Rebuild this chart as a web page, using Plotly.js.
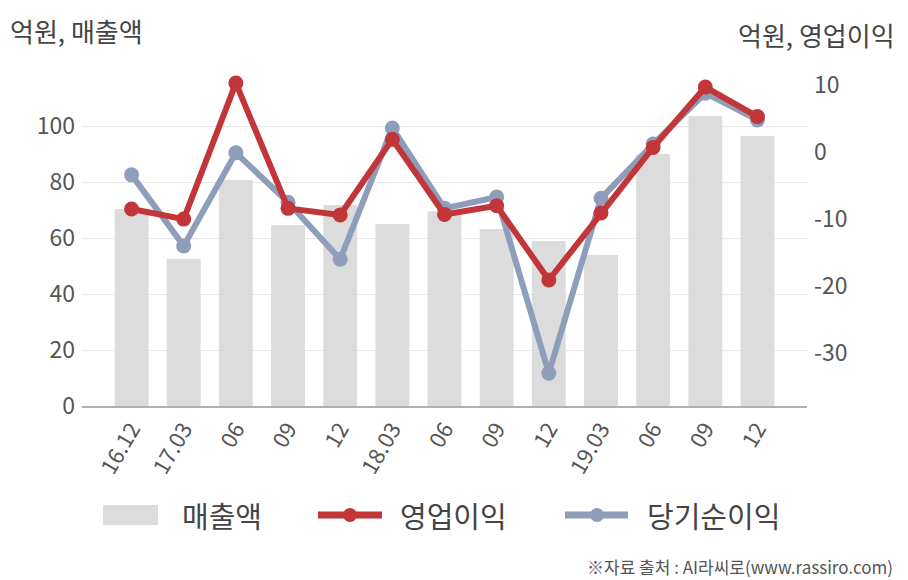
<!DOCTYPE html>
<html>
<head>
<meta charset="utf-8">
<script src="https://cdn.plot.ly/plotly-3.0.1.min.js"></script>
<style>
html,body{margin:0;padding:0;background:#fff;}
#chart{width:908px;height:580px;}
</style>
</head>
<body>
<div id="chart"></div>
<script>
var categories = ["16.12","17.03","06 ","09 ","12 ","18.03","06  ","09  ","12  ","19.03","06","09","12"];
var sales = [70.4, 52.5, 80.7, 64.6, 71.8, 65.0, 69.6, 63.2, 58.9, 53.9, 90.0, 103.6, 96.4];
var operatingProfit = [-8.5, -10.0, 10.3, -8.4, -9.4, 1.9, -9.3, -8.0, -19.1, -9.1, 0.7, 9.7, 5.3];
var netIncome = [-3.4, -14.0, -0.1, -7.5, -16.0, 3.6, -8.4, -6.7, -33.0, -6.9, 1.2, 8.8, 4.8];
var tickLabels = ["16.12","17.03","06","09","12","18.03","06","09","12","19.03","06","09","12"];
var leftTicks = [0, 20, 40, 60, 80, 100];
var rightTicks = [-30, -20, -10, 0, 10];
var rightTickText = ["-30", "-20", "-10", "0", "10"];
var seriesNames = ["매출액", "영업이익", "당기순이익"];

var FONT = '"Noto Sans CJK KR", "Noto Sans", sans-serif';
var RED = '#c23539';
var BLUE = '#8e9dba';
var GREY = '#dcdcdc';

var traces = [
  {type:'bar', x:categories, y:sales, name:seriesNames[0], marker:{color:GREY}, width:0.65, yaxis:'y'},
  {type:'scatter', mode:'lines+markers', x:categories, y:netIncome, name:seriesNames[2], yaxis:'y2',
   line:{color:BLUE, width:6}, marker:{color:BLUE, size:15}},
  {type:'scatter', mode:'lines+markers', x:categories, y:operatingProfit, name:seriesNames[1], yaxis:'y2',
   line:{color:RED, width:6}, marker:{color:RED, size:15}}
];

// paper-coordinate helpers for legend decorations
function px(x){ return (x-82)/725; }
function py(y){ return (406-y)/341; }

var shapes = [
  {type:'rect', xref:'paper', yref:'paper', x0:px(103), x1:px(158), y0:py(505), y1:py(525), fillcolor:GREY, line:{width:0}},
  {type:'line', xref:'paper', yref:'paper', x0:px(318), x1:px(382), y0:py(515), y1:py(515), line:{color:RED, width:7}},
  {type:'circle', xref:'paper', yref:'paper', x0:px(343), x1:px(357), y0:py(508), y1:py(522), fillcolor:RED, line:{width:0}},
  {type:'line', xref:'paper', yref:'paper', x0:px(565), x1:px(628), y0:py(515), y1:py(515), line:{color:BLUE, width:7}},
  {type:'circle', xref:'paper', yref:'paper', x0:px(590), x1:px(604), y0:py(508), y1:py(522), fillcolor:BLUE, line:{width:0}}
];

var annotations = [
  {xref:'paper', yref:'paper', x:px(8), y:py(30), xanchor:'left', yanchor:'middle', text:'억원, 매출액', showarrow:false, font:{family:FONT, size:26, color:'#444'}},
  {xref:'paper', yref:'paper', x:px(897), y:py(34), xanchor:'right', yanchor:'middle', text:'억원, 영업이익', showarrow:false, font:{family:FONT, size:26, color:'#444'}},
  {xref:'paper', yref:'paper', x:px(180), y:py(515), xanchor:'left', yanchor:'middle', text:seriesNames[0], showarrow:false, font:{family:FONT, size:29, color:'#444'}},
  {xref:'paper', yref:'paper', x:px(398), y:py(515), xanchor:'left', yanchor:'middle', text:seriesNames[1], showarrow:false, font:{family:FONT, size:29, color:'#444'}},
  {xref:'paper', yref:'paper', x:px(645), y:py(515), xanchor:'left', yanchor:'middle', text:seriesNames[2], showarrow:false, font:{family:FONT, size:29, color:'#444'}},
  {xref:'paper', yref:'paper', x:px(895), y:py(566), xanchor:'right', yanchor:'middle', text:'※자료 출처 : AI라씨로(www.rassiro.com)', showarrow:false, font:{family:FONT, size:17, color:'#555'}}
];

var layout = {
  width:908, height:580,
  margin:{l:82, r:101, t:65, b:174, pad:0},
  paper_bgcolor:'#fff', plot_bgcolor:'#fff',
  showlegend:false,
  font:{family:FONT, color:'#555'},
  xaxis:{
    type:'category', range:[-0.95, 12.95],
    tickvals:categories, ticktext:tickLabels, tickangle:-60,
    tickfont:{family:FONT, size:22, color:'#555'},
    showgrid:false, showline:true, linecolor:'#b0b0b0', linewidth:1.5,
    ticks:'', fixedrange:true
  },
  yaxis:{
    range:[0, 121.8], tickvals:leftTicks,
    tickfont:{family:FONT, size:23, color:'#555'},
    showgrid:true, gridcolor:'#e9e9e9', gridwidth:1,
    zeroline:false, showline:false, ticks:'', ticklabelstandoff:6
  },
  yaxis2:{
    overlaying:'y', side:'right', range:[-37.9, 13.0], tickvals:rightTicks, ticktext:rightTickText,
    tickfont:{family:FONT, size:23, color:'#555'},
    showgrid:false, zeroline:false, showline:false, ticks:'', ticklabelstandoff:6
  },
  shapes:shapes,
  annotations:annotations
};

Plotly.newPlot('chart', traces, layout, {displayModeBar:false, staticPlot:true});
</script>
</body>
</html>
